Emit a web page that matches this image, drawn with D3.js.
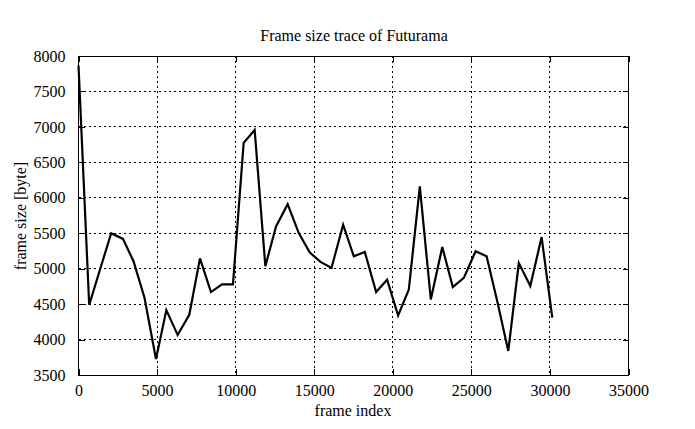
<!DOCTYPE html>
<html><head><meta charset="utf-8">
<script src="https://cdn.jsdelivr.net/npm/d3@7"></script>
<style>body{margin:0;background:#fff}svg{display:block}text{font-family:"Liberation Serif","DejaVu Serif",serif !important;fill:#000}</style>
</head><body><svg id="c" width="695" height="429"></svg>
<script>
const frames = [0,680,1380,2080,2830,3500,4200,4930,5590,6310,7050,7730,8430,9130,9830,10510,11210,11890,12570,13310,14010,14710,15400,16100,16840,17520,18220,18940,19640,20340,21020,21720,22420,23150,23820,24520,25270,25970,26670,27350,28020,28750,29470,30150];
const sizes = [7870,4490,4995,5500,5420,5105,4590,3725,4415,4065,4350,5145,4670,4778,4778,6775,6955,5035,5595,5910,5505,5230,5095,5010,5620,5175,5235,4670,4845,4340,4705,6160,4565,5305,4740,4870,5245,5175,4520,3840,5080,4755,5445,4310];
const xTicks = [0,5000,10000,15000,20000,25000,30000,35000];
const yTicks = [3500,4000,4500,5000,5500,6000,6500,7000,7500,8000];
const title = "Frame size trace of Futurama";
const xLabel = "frame index";
const yLabel = "frame size [byte]";

const svg = d3.select("#c");
const L=78.5, R=628.5, T=56, B=375;
const x = d3.scaleLinear().domain([0,35000]).range([L,R]);
const y = d3.scaleLinear().domain([3500,8000]).range([B,T]);
const FF = '"Liberation Serif", serif';

const g = svg.append("g");
g.selectAll(".gx").data(xTicks.slice(1,-1)).enter().append("line")
 .attr("x1",d=>x(d)).attr("x2",d=>x(d)).attr("y1",T).attr("y2",B)
 .attr("stroke","#000").attr("stroke-width",1).attr("stroke-dasharray","2,3").attr("shape-rendering","crispEdges");
g.selectAll(".gy").data(yTicks.slice(1,-1)).enter().append("line")
 .attr("x1",L).attr("x2",R).attr("y1",d=>y(d)).attr("y2",d=>y(d))
 .attr("stroke","#000").attr("stroke-width",1).attr("stroke-dasharray","2,3").attr("shape-rendering","crispEdges");

const tk=6;
const ax = d3.axisBottom(x).tickValues(xTicks).tickSize(-tk).tickPadding(tk+4).tickFormat(d3.format("d"));
const ay = d3.axisLeft(y).tickValues(yTicks).tickSize(-tk).tickPadding(tk+7).tickFormat(d3.format("d"));
const axT = d3.axisTop(x).tickValues(xTicks).tickSize(-tk).tickFormat("");
const ayR = d3.axisRight(y).tickValues(yTicks).tickSize(-tk).tickFormat("");
function style(sel){sel.attr("font-family",FF).attr("font-size",16);sel.select(".domain").remove();sel.selectAll("line").attr("stroke","#000").attr("shape-rendering","crispEdges");sel.selectAll("text").style("font-size","16px").style("font-family",FF);}
svg.append("g").attr("transform",`translate(0,${B})`).call(ax).call(style);
svg.append("g").attr("transform",`translate(${L},0)`).call(ay).call(style);
svg.append("g").attr("transform",`translate(0,${T})`).call(axT).call(style);
svg.append("g").attr("transform",`translate(${R},0)`).call(ayR).call(style);
svg.append("rect").attr("x",L).attr("y",T).attr("width",R-L).attr("height",B-T)
 .attr("fill","none").attr("stroke","#000").attr("stroke-width",1).attr("shape-rendering","crispEdges");

const line = d3.line().x((d,i)=>x(frames[i])).y(d=>y(d));
svg.append("path").datum(sizes).attr("d",line).attr("fill","none").attr("stroke","#000")
 .attr("stroke-width",2.2).attr("stroke-linejoin","miter");

svg.append("text").attr("x",354).attr("y",41).attr("text-anchor","middle").style("font-size","16px").text(title);
svg.append("text").attr("x",353).attr("y",416).attr("text-anchor","middle").style("font-size","16px").text(xLabel);
svg.append("text").attr("transform","translate(26,216) rotate(-90)").attr("text-anchor","middle").style("font-size","16px").text(yLabel);
</script></body></html>
